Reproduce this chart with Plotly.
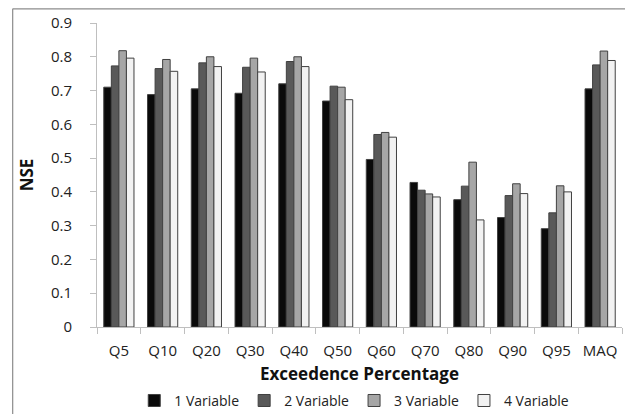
import plotly.graph_objects as go

categories = ["Q5", "Q10", "Q20", "Q30", "Q40", "Q50", "Q60", "Q70", "Q80", "Q90", "Q95", "MAQ"]
var1 = [0.710, 0.688, 0.705, 0.692, 0.720, 0.669, 0.496, 0.428, 0.377, 0.324, 0.291, 0.705]
var2 = [0.773, 0.765, 0.782, 0.769, 0.786, 0.713, 0.570, 0.405, 0.417, 0.389, 0.338, 0.776]
var3 = [0.818, 0.792, 0.800, 0.796, 0.800, 0.710, 0.576, 0.394, 0.488, 0.424, 0.418, 0.817]
var4 = [0.796, 0.757, 0.771, 0.755, 0.771, 0.673, 0.562, 0.385, 0.317, 0.395, 0.400, 0.789]

series_names = ["1 Variable", "2 Variable", "3 Variable", "4 Variable"]
series_values = [var1, var2, var3, var4]
colors = ["#0a0a0a", "#595959", "#a6a6a6", "#f2f2f2"]

font_family = "Open Sans, Liberation Sans, sans-serif"

fig = go.Figure()
for name, vals, c in zip(series_names, series_values, colors):
    fig.add_trace(go.Bar(
        x=categories, y=vals, name=name,
        marker=dict(color=c, line=dict(color="#404040", width=1)),
    ))

border = dict(color="#8c8c8c", width=1.2)

# page body keeps its default 8px margin, so margins are reduced by 8px on left/top
fig.update_layout(
    width=633, height=414,
    margin=dict(l=89, r=19, t=15, b=95, autoexpand=False),
    paper_bgcolor="white", plot_bgcolor="white",
    barmode="group", bargap=0.31, bargroupgap=0,
    font=dict(family=font_family, size=14, color="#222222"),
    showlegend=True,
    legend=dict(orientation="h", x=0.49, xanchor="center",
                yref="container", y=0.051, yanchor="middle",
                font=dict(size=14, color="#222222"), traceorder="normal",
                itemwidth=30, tracegroupgap=0, bgcolor="rgba(0,0,0,0)"),
    xaxis=dict(
        showgrid=False, showline=True, linecolor="#bfbfbf", linewidth=1,
        ticks="outside", ticklen=6, tickcolor="#bfbfbf", tickson="boundaries",
        tickfont=dict(size=15, color="#222222"), ticklabelstandoff=10,
        automargin=False,
        title=dict(text="<b>Exceedence Percentage</b>", font=dict(size=17, color="#111111"), standoff=29),
    ),
    yaxis=dict(
        range=[0, 0.9], dtick=0.1, showgrid=False, zeroline=False,
        showline=True, linecolor="#bfbfbf", linewidth=1,
        ticks="outside", ticklen=6, tickcolor="#bfbfbf",
        tickfont=dict(size=15, color="#222222"), ticksuffix="\u2002\u2002",
        automargin=False,
        title=dict(text="<b>NSE</b>", font=dict(size=17, color="#111111"), standoff=12),
    ),
    shapes=[
        dict(type="line", xref="paper", yref="paper", x0=-0.1606, x1=1.04, y0=1.0467, y1=1.0467,
             line=border, layer="above"),
        dict(type="line", xref="paper", yref="paper", x0=-0.1606, x1=-0.1606, y0=1.0467, y1=-0.5,
             line=border, layer="above"),
    ],
)

fig.write_html("out.html", config={"displayModeBar": False})
